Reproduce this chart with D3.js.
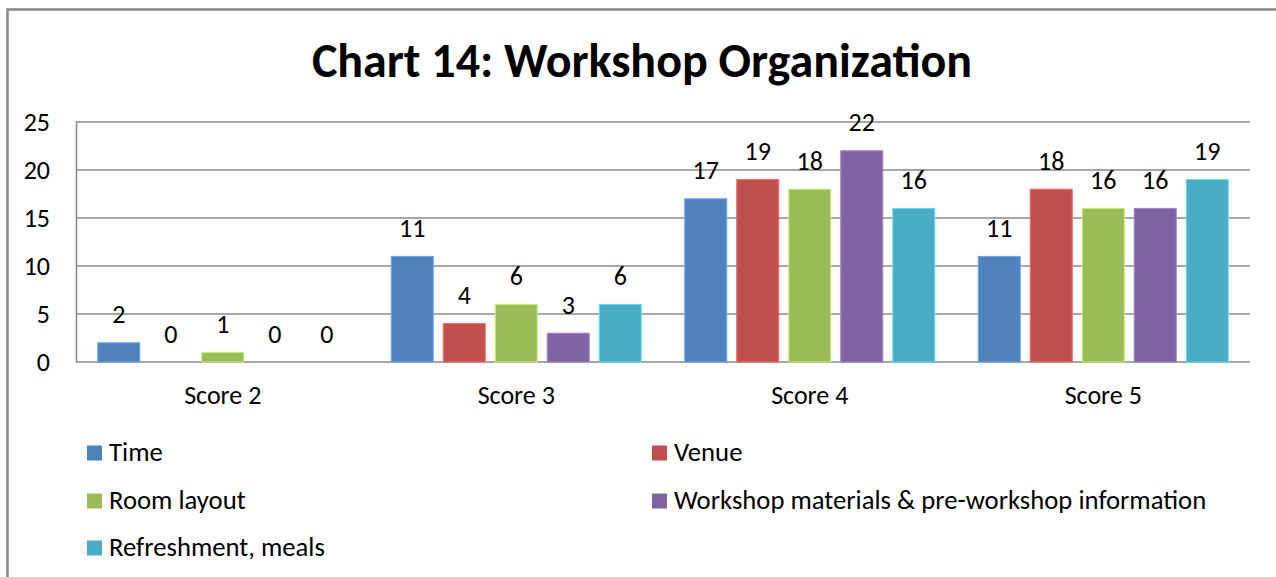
<!DOCTYPE html>
<html>
<head>
<meta charset="utf-8">
<script src="https://cdn.jsdelivr.net/npm/d3@7"></script>
<style>
  body { margin: 0; background: #fff; }
  svg { display: block; font-family: Carlito, Calibri, Lato, sans-serif; }
</style>
</head>
<body>
<script>
// chart values
const categories = ["Score 2", "Score 3", "Score 4", "Score 5"];
const seriesNames = ["Time", "Venue", "Room layout", "Workshop materials & pre-workshop information", "Refreshment, meals"];
const timeVals = [2, 11, 17, 11];
const venueVals = [0, 4, 19, 18];
const roomVals = [1, 6, 18, 16];
const materialVals = [0, 3, 22, 16];
const mealVals = [0, 6, 16, 19];
const yTicks = [0, 5, 10, 15, 20, 25];
const colors = ["#4F81BD", "#C0504D", "#9BBB59", "#8064A2", "#4BACC6"];

const allSeries = [timeVals, venueVals, roomVals, materialVals, mealVals];

// Define canvas and margins
let width = 1276;
let height = 577;
let margin = { top: 122, bottom: 215, left: 76, right: 26 };

const svg = d3.select("body")
    .append("svg")
    .attr("width", width)
    .attr("height", height);

// outer chart border (runs off the picture on the right and bottom)
svg.append("rect")
    .attr("x", 7.5)
    .attr("y", 9.5)
    .attr("width", width + 20)
    .attr("height", height + 20)
    .attr("fill", "none")
    .attr("stroke", "#888")
    .attr("stroke-width", 2.5);

// title
svg.append("text")
    .attr("x", 642)
    .attr("y", 77)
    .attr("text-anchor", "middle")
    .style("font-size", "48px")
    .style("font-weight", "bold")
    .text("Chart 14: Workshop Organization");

// scales
let yScale = d3.scaleLinear()
    .domain([0, 25])
    .range([height - margin.bottom, margin.top]);

let x0 = d3.scaleBand()
    .domain(categories)
    .range([margin.left, width - margin.right])
    .padding(0);

const groupPad = 21.75;
let x1 = d3.scaleBand()
    .domain(d3.range(seriesNames.length))
    .range([groupPad, x0.bandwidth() - groupPad])
    .paddingInner(10 / 52)
    .paddingOuter(0);

// gridlines
svg.append("g")
    .selectAll("line")
    .data(yTicks)
    .enter()
    .append("line")
    .attr("x1", margin.left)
    .attr("x2", width - margin.right)
    .attr("y1", d => yScale(d))
    .attr("y2", d => yScale(d))
    .attr("stroke", "#888")
    .attr("stroke-width", 1.5);

// y axis
const yAxis = svg.append("g")
    .attr("transform", `translate(${margin.left},0)`)
    .call(d3.axisLeft(yScale).tickValues(yTicks).tickSize(0).tickPadding(26));
yAxis.select(".domain").attr("stroke", "#888").attr("stroke-width", 1.5);
yAxis.selectAll("text")
    .style("font-size", "26px")
    .style("font-family", "Carlito, Calibri, Lato, sans-serif")
    .attr("fill", "#000");

// x axis labels
const xAxis = svg.append("g")
    .attr("transform", `translate(0,${height - margin.bottom})`)
    .call(d3.axisBottom(x0).tickSize(0).tickPadding(23.5));
xAxis.select(".domain").remove();
xAxis.selectAll("text")
    .style("font-size", "26px")
    .style("font-family", "Carlito, Calibri, Lato, sans-serif")
    .attr("fill", "#000");

// bars
const groups = svg.append("g")
    .selectAll("g")
    .data(categories)
    .enter()
    .append("g")
    .attr("transform", d => `translate(${x0(d)},0)`);

groups.selectAll("rect")
    .data((d, i) => allSeries.map((s, k) => ({ k: k, v: s[i] })))
    .enter()
    .append("rect")
    .attr("x", d => x1(d.k))
    .attr("y", d => yScale(d.v))
    .attr("width", x1.bandwidth())
    .attr("height", d => yScale(0) - yScale(d.v))
    .attr("fill", d => colors[d.k])
    .attr("stroke", d => d3.color(colors[d.k]).brighter(0.7))
    .attr("stroke-width", d => d.v > 0 ? 1 : 0);

// data labels
groups.selectAll("text")
    .data((d, i) => allSeries.map((s, k) => ({ k: k, v: s[i] })))
    .enter()
    .append("text")
    .attr("x", d => x1(d.k) + x1.bandwidth() / 2)
    .attr("y", d => yScale(d.v) - 19.5)
    .attr("text-anchor", "middle")
    .style("font-size", "26px")
    .text(d => d.v);

// legend
const legendPos = [[87, 453], [652, 453], [87, 501], [652, 501], [87, 548]];
const legend = svg.append("g")
    .selectAll("g")
    .data(seriesNames)
    .enter()
    .append("g")
    .attr("transform", (d, i) => `translate(${legendPos[i][0]},${legendPos[i][1]})`);

legend.append("rect")
    .attr("x", 0)
    .attr("y", -7.5)
    .attr("width", 15)
    .attr("height", 15)
    .attr("fill", (d, i) => colors[i]);

legend.append("text")
    .attr("x", 22)
    .attr("y", 8)
    .style("font-size", "26.7px")
    .text(d => d);
</script>
</body>
</html>
